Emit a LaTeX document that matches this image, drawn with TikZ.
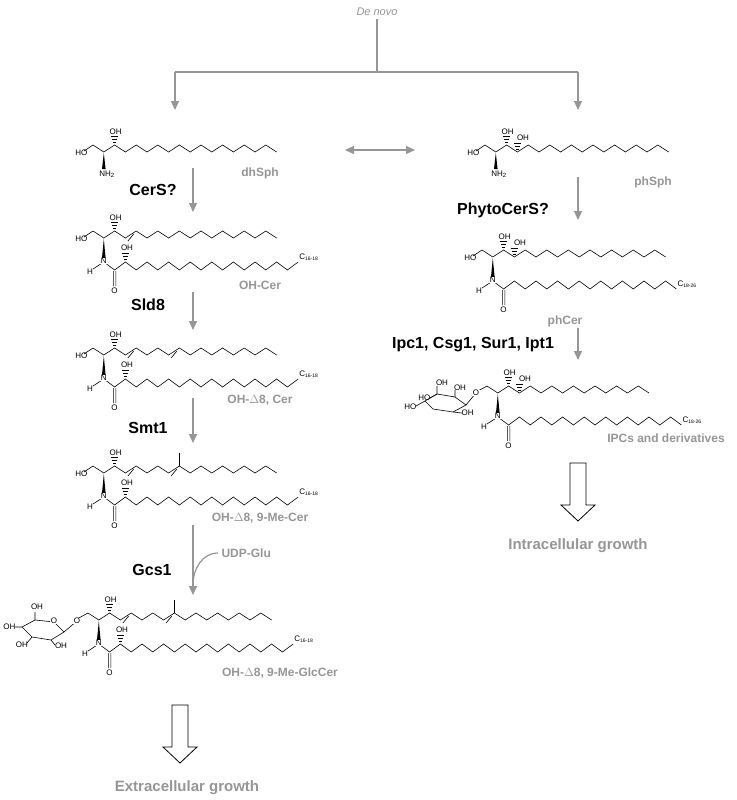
\documentclass[tikz,border=0pt]{standalone}
\usepackage{fontspec}
\setmainfont{Liberation Sans}
\usetikzlibrary{arrows.meta}
\definecolor{gr}{RGB}{150,150,150}
\newcommand\sphchain{\draw[bond] (0,-7) \foreach \i in {1,...,17}{ -- ({10.8*\i},{-7+7*mod(\i,2)}) };}
\newcommand\dblb[1]{\pgfmathsetmacro\xa{10.8*#1+2.5}\pgfmathsetmacro\xb{10.8*(#1+1)-2.5}\pgfmathsetmacro\ya{-7+7*mod(#1,2)+3}\pgfmathsetmacro\yb{-7+7*mod(#1+1,2)+3}\draw[bond] (\xa,\ya)--(\xb,\yb);}
\newcommand\hashup[3]{\foreach \k in {1,2,3}{\draw[bond] ({#1-0.8-0.9*\k},{#2-#3*\k/3.2}) -- ({#1+0.8+0.9*\k},{#2-#3*\k/3.2});}}
\newcommand\headHO{\draw[bond] (0,-7)--(-9,-1); \node[atom,anchor=east] at (-5,0.5) {HO};}
\newcommand\cthreeOH{\hashup{21.6}{-7}{9} \node[atom] at (22.6,-20){OH};}
\newcommand\cfourOH{\hashup{32.4}{0}{9} \node[atom] at (38,-14){OH};}
\newcommand\amide[2]{%
 \fill (10.8,1)--(9,20)--(12.6,20)--cycle;
 \draw[bond] (10.8,24) \foreach \i in {1,...,#1}{ -- ({10.8+10.8*\i},{24+8*mod(\i,2)}) };
 \draw[bond] (20.3,33)--(20.3,48) (22.9,33)--(22.9,48) (10.8,24)--(0,31);
 \node[atom,fill=white] at (10.8,23) {N};
 \node[atom] at (-3,34) {H};
 \node[atom] at (21.6,53) {O};
 \node[atom,anchor=south west,inner sep=0pt] at ({10.8+10.8*#1+1},{24+8*mod(#1,2)-1}) {C\textsubscript{\tiny #2}};}
\newcommand\alphaOH{\hashup{32.4}{24}{9} \node[atom] at (34,10){OH};}
\begin{document}
\begin{tikzpicture}[x=1pt,y=-1pt,
 bond/.style={line width=0.6pt},
 atom/.style={font=\fontsize{8}{9}\selectfont,inner sep=0.5pt},
 enz/.style={font=\fontsize{16}{18}\selectfont\bfseries},
 glab/.style={font=\fontsize{12}{14}\selectfont\bfseries,text=gr},
 garr/.style={draw=gr,line width=1.2pt,-{Triangle[length=9pt,width=8pt]}},
 hollow/.style={draw=black,line width=0.8pt,fill=white}]
\useasboundingbox (0,0) rectangle (736,800);
% top
\node[font=\fontsize{11}{13}\selectfont\itshape,text=gr] (dn) at (377,12) {De novo};
\draw[gr,line width=1.2pt] (dn.south)--(377,72) (175,72)--(578,72);
\draw[garr] (175,72)--(175,110);
\draw[garr] (578,72)--(578,110);
\draw[draw=gr,line width=1.2pt,{Triangle[length=9pt,width=8pt]}-{Triangle[length=9pt,width=8pt]}] (345,150)--(415,150);
% dhSph
\begin{scope}[shift={(93,152)}]
\sphchain \headHO \cthreeOH
\fill (10.8,1)--(9,17)--(12.6,17)--cycle;
\node[atom] at (14,22) {NH\textsubscript{2}};
\end{scope}
\node[glab] at (260,173) {dhSph};
\node[enz] at (153,190) {CerS?};
\draw[garr] (193,168)--(193,212);
% OH-Cer
\begin{scope}[shift={(93,238)}]
\sphchain \headHO \cthreeOH \dblb{3} \amide{18}{16-18} \alphaOH
\end{scope}
\node[glab] at (260,285) {OH-Cer};
\node[enz] at (148,305) {Sld8};
\draw[garr] (193,292)--(193,330);
% D8
\begin{scope}[shift={(93,355)}]
\sphchain \headHO \cthreeOH \dblb{3} \dblb{7} \amide{18}{16-18} \alphaOH
\end{scope}
\node[glab] at (260,400) {OH-$\Delta$8, Cer};
\node[enz] at (148,428) {Smt1};
\draw[garr] (193,398)--(193,443);
% 9-Me
\begin{scope}[shift={(93,473)}]
\sphchain \headHO \cthreeOH \dblb{3} \dblb{7} \amide{18}{16-18} \alphaOH
\draw[bond] (86.4,-7)--(86.4,-20);
\end{scope}
\node[glab] at (260,518) {OH-$\Delta$8, 9-Me-Cer};
\node[enz] at (152,570) {Gcs1};
\draw[garr] (193,525)--(193,595);
\node[glab,anchor=west] (udp) at (218,553) {UDP-Glu};
\draw[gr,line width=1.2pt] (udp.west) to[out=180,in=90] (193,585);
% GlcCer
\begin{scope}[shift={(88,620)}]
\sphchain \cthreeOH \dblb{3} \dblb{7} \amide{18}{16-18} \alphaOH
\draw[bond] (86.4,-7)--(86.4,-20);
\draw[bond] (0,-7)--(-11,-1);
\end{scope}
\draw[bond] (22,627)--(35,620)--(54,622)--(64,632)--(51,640)--(32,637)--cycle;
\draw[bond] (64,632)--(77,621) (22,627)--(15,627) (32,637)--(27,643) (51,640)--(55,645) (35,620)--(35,612);
\node[atom,fill=white] at (77,621) {O};
\node[atom,fill=white] at (54,621) {O};
\node[atom,anchor=east] at (16,627) {OH};
\node[atom] at (22,645) {OH};
\node[atom] at (61,646) {OH};
\node[atom] at (37,607) {OH};
\node[glab] at (280,673) {OH-$\Delta$8, 9-Me-GlcCer};
\draw[hollow] (172,705)--(188,705)--(188,747)--(197,747)--(180,763)--(163,747)--(172,747)--cycle;
\node[glab,font=\fontsize{15}{17}\selectfont\bfseries] at (187,788) {Extracellular growth};
% phSph
\begin{scope}[shift={(485,152)}]
\sphchain \headHO \cthreeOH \cfourOH
\fill (10.8,1)--(9,17)--(12.6,17)--cycle;
\node[atom] at (14,22) {NH\textsubscript{2}};
\end{scope}
\node[glab] at (653,182) {phSph};
\node[enz] at (503,210) {PhytoCerS?};
\draw[garr] (578,177)--(578,220);
% phCer
\begin{scope}[shift={(482,257)}]
\sphchain \headHO \cthreeOH \cfourOH \amide{17}{18-26}
\end{scope}
\node[glab] at (565,321) {phCer};
\node[enz] at (473,345) {Ipc1, Csg1, Sur1, Ipt1};
\draw[garr] (578,328)--(578,360);
% IPC
\begin{scope}[shift={(487,393)}]
\draw[bond] (0,-7) \foreach \i in {1,...,15}{ -- ({10.8*\i},{-7+7*mod(\i,2)}) };
\cthreeOH \cfourOH \amide{17}{18-26}
\draw[bond] (0,-7)--(-11,-1);
\end{scope}
\draw[bond] (425,401)--(437,394)--(455,397)--(466,405)--(453,412)--(433,409)--cycle;
\draw[bond] (466,405)--(476,393) (425,401)--(416,406) (437,394)--(437,386) (437,394)--(430,398) (455,397)--(455,390) (453,412)--(462,413);
\node[atom,fill=white] at (476,393) {O};
\node[atom,anchor=east] at (417,407) {HO};
\node[atom,anchor=east] at (431,398) {HO};
\node[atom] at (442,383) {OH};
\node[atom] at (460,388) {OH};
\node[atom,anchor=west] at (461,413) {OH};
\node[glab] at (666,438) {IPCs and derivatives};
\draw[hollow] (570,463)--(586,463)--(586,505)--(595,505)--(578,521)--(561,505)--(570,505)--cycle;
\node[glab,font=\fontsize{15}{17}\selectfont\bfseries] at (578,546) {Intracellular growth};
\end{tikzpicture}
\end{document}
